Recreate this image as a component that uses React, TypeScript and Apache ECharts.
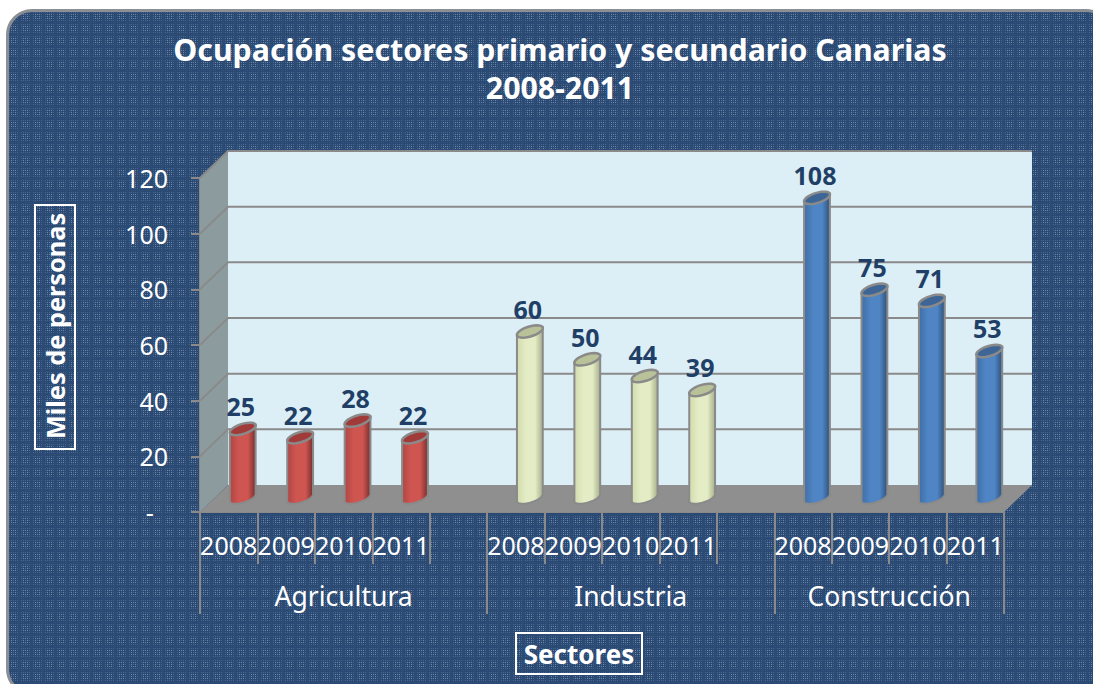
import React, { useEffect, useRef } from "react";
import * as echarts from "echarts";

const titleText = "Ocupación sectores primario y secundario Canarias\n2008-2011";
const years = ["2008", "2009", "2010", "2011"];
const sectors = ["Agricultura", "Industria", "Construcción"];
const agricultura = [25, 22, 28, 22];
const industria = [60, 50, 44, 39];
const construccion = [108, 75, 71, 53];
const yTicks = [0, 20, 40, 60, 80, 100, 120];
const yName = "Miles de personas";
const xName = "Sectores";

const DEPTH_X = 28;
const DEPTH_Y = 27;
const GREY = "#8a8a8a";
const NAVY = "#1f3f66";
const FONT = '"Noto Sans", sans-serif';

const slots = [...years, "", ...years, "", ...years];
const slotCount = slots.length;

function ellipsePts(cx: number, cy: number, rx: number, ry: number, tilt: number, from: number, to: number) {
  const pts: number[][] = [];
  const n = 28;
  for (let i = 0; i <= n; i++) {
    const t = from + ((to - from) * i) / n;
    const x = rx * Math.cos(t);
    const y = ry * Math.sin(t);
    pts.push([cx + x * Math.cos(tilt) + y * Math.sin(tilt), cy - x * Math.sin(tilt) + y * Math.cos(tilt)]);
  }
  return pts;
}

function cylinderSeries(values: number[], start: number, c: { left: string; mid: string; right: string; top: string }) {
  return {
    type: "custom",
    xAxisIndex: 0,
    yAxisIndex: 0,
    z: 5,
    clip: false,
    silent: true,
    data: values.map((v, i) => [start + i, v]),
    encode: { x: 0, y: 1 },
    renderItem: (_p: any, api: any) => {
      const idx = api.value(0);
      const val = api.value(1);
      const base = api.coord([idx, 0]);
      const top = api.coord([idx, val]);
      const cx = base[0] + DEPTH_X / 2;
      const by = base[1] - DEPTH_Y / 2 - 1;
      const ty = top[1] - DEPTH_Y / 2;
      const rx = 13.5;
      const ry = 5;
      const tilt = 0.3;
      const bEnd = ellipsePts(cx, by, rx, ry, tilt, 0, Math.PI);
      const body = [...bEnd, ellipsePts(cx, ty, rx, ry, tilt, Math.PI, Math.PI)[0], ellipsePts(cx, ty, rx, ry, tilt, 0, 0)[0]];
      const fill = new echarts.graphic.LinearGradient(0, 0, 1, 0, [
        { offset: 0, color: c.left },
        { offset: 0.35, color: c.mid },
        { offset: 0.7, color: c.mid },
        { offset: 1, color: c.right },
      ]);
      return {
        type: "group",
        children: [
          { type: "polygon", shape: { points: body }, style: { fill, stroke: GREY, lineWidth: 2 } },
          {
            type: "polygon",
            shape: { points: ellipsePts(cx, ty, rx, ry, tilt, 0, Math.PI * 2) },
            style: { fill: c.top, stroke: GREY, lineWidth: 2.5 },
          },
          {
            type: "text",
            style: {
              x: cx - 2,
              y: ty - 10,
              text: String(val),
              fill: NAVY,
              font: `bold 25px ${FONT}`,
              align: "center",
              verticalAlign: "bottom",
            },
          },
        ],
      };
    },
  };
}

function patternUrl() {
  let dots = "";
  for (let i = 0; i < 6; i++) {
    for (let j = 0; j < 6; j++) {
      const ring = Math.max(Math.abs(i - 2), Math.abs(j - 2)) === 1;
      const edge = i === 5 || j === 5;
      const col = ring ? "#7089aa" : edge ? "#2f4e78" : "#47658d";
      dots += `<rect x='${i * 2}' y='${j * 2}' width='1' height='1' fill='${col}'/>`;
    }
  }
  const svg = `<svg xmlns='http://www.w3.org/2000/svg' width='12' height='12'><rect width='12' height='12' fill='#2a4a74'/>${dots}</svg>`;
  return `url("data:image/svg+xml,${encodeURIComponent(svg)}")`;
}

export default function App() {
  const ref = useRef<HTMLDivElement>(null);
  useEffect(() => {
    document.body.style.margin = "0";
    const chart = echarts.init(ref.current!, null, { renderer: "svg" });
    const planes = {
      type: "custom",
      xAxisIndex: 1,
      yAxisIndex: 0,
      z: 1,
      clip: false,
      silent: true,
      data: [[0, 0]],
      renderItem: (_p: any, api: any) => {
        const a = api.coord([0, 0]);
        const b = api.coord([slotCount, yTicks[yTicks.length - 1]]);
        const [x0, y0] = a;
        const [x1, y1] = b;
        return {
          type: "group",
          children: [
            {
              type: "rect",
              shape: { x: x0 + DEPTH_X, y: y1 - DEPTH_Y, width: x1 - x0, height: y0 - y1 },
              style: { fill: "#dceef6" },
            },
            {
              type: "polygon",
              shape: { points: [[x0, y1], [x0 + DEPTH_X, y1 - DEPTH_Y], [x0 + DEPTH_X, y0 - DEPTH_Y], [x0, y0]] },
              style: { fill: "#8c9c9e" },
            },
            {
              type: "polygon",
              shape: { points: [[x0, y0], [x0 + DEPTH_X, y0 - DEPTH_Y], [x1 + DEPTH_X, y0 - DEPTH_Y], [x1, y0]] },
              style: { fill: "#8f8f8f" },
            },
          ],
        };
      },
    };
    const gridLines = {
      type: "custom",
      xAxisIndex: 1,
      yAxisIndex: 0,
      z: 2,
      clip: false,
      silent: true,
      data: yTicks.slice(1).map((v) => [0, v]),
      encode: { y: 1 },
      renderItem: (_p: any, api: any) => {
        const a = api.coord([0, api.value(1)]);
        const b = api.coord([slotCount, api.value(1)]);
        return {
          type: "polyline",
          shape: { points: [[a[0], a[1]], [a[0] + DEPTH_X, a[1] - DEPTH_Y], [b[0] + DEPTH_X, b[1] - DEPTH_Y]] },
          style: { stroke: GREY, lineWidth: 2, fill: "none" },
        };
      },
    };
    chart.setOption({
      animation: false,
      backgroundColor: "transparent",
      title: {
        text: titleText,
        left: 555,
        top: 25,
        textAlign: "center",
        textStyle: { color: "#fff", fontFamily: FONT, fontWeight: "bold", fontSize: 30.3, lineHeight: 38 },
      },
      grid: { left: 200, right: 89, top: 178, bottom: 172 },
      xAxis: [
        {
          type: "category",
          data: slots,
          position: "bottom",
          axisLine: { show: true, lineStyle: { color: GREY, width: 2 } },
          axisTick: { show: true, length: 52, alignWithLabel: false, lineStyle: { color: GREY, width: 2 } },
          axisLabel: { show: true, interval: 0, color: "#fff", fontFamily: FONT, fontSize: 25, margin: 20 },
          splitLine: { show: false },
        },
        {
          type: "value",
          min: 0,
          max: slotCount,
          position: "bottom",
          axisLine: { show: false },
          axisTick: { show: true, length: 102, customValues: [0, 5, 10, 14], lineStyle: { color: GREY, width: 2 } },
          axisLabel: {
            show: true,
            customValues: [2.5, 7.5, 12],
            formatter: (v: number) => sectors[v < 5 ? 0 : v < 10 ? 1 : 2],
            color: "#fff",
            fontFamily: FONT,
            fontSize: 26.5,
            margin: 70,
          },
          splitLine: { show: false },
        },
      ],
      yAxis: {
        type: "value",
        min: 0,
        max: 120,
        interval: 20,
        axisLine: { show: true, lineStyle: { color: GREY, width: 2 } },
        axisTick: { show: true, length: 9, lineStyle: { color: GREY, width: 2 } },
        axisLabel: {
          color: "#fff",
          fontFamily: FONT,
          fontSize: 25,
          margin: 32,
          formatter: (v: number) => (v === 0 ? "-\u2007" : String(v)),
        },
        splitLine: { show: false },
      },
      graphic: [
        { type: "rect", shape: { x: 35, y: 205, width: 40, height: 244 }, style: { fill: "transparent", stroke: "#fff", lineWidth: 2 } },
        {
          type: "text",
          x: 55,
          y: 326,
          rotation: Math.PI / 2,
          style: { text: yName, fill: "#fff", font: `bold 25.3px ${FONT}`, align: "center", verticalAlign: "middle" },
        },
        { type: "rect", shape: { x: 516, y: 633, width: 126, height: 41 }, style: { fill: "transparent", stroke: "#fff", lineWidth: 2 } },
        {
          type: "text",
          x: 579,
          y: 654,
          style: { text: xName, fill: "#fff", font: `bold 26px ${FONT}`, align: "center", verticalAlign: "middle" },
        },
      ],
      series: [
        planes,
        gridLines,
        cylinderSeries(agricultura, 0, { left: "#b04643", mid: "#cf5551", right: "#74302e", top: "#a03b39" }),
        cylinderSeries(industria, 5, { left: "#d2dbae", mid: "#e3ecc4", right: "#a7ae8b", top: "#b9c198" }),
        cylinderSeries(construccion, 10, { left: "#3f6ea6", mid: "#4f85c4", right: "#2f5078", top: "#3d6596" }),
      ],
    });
    return () => chart.dispose();
  }, []);
  return (
    <div style={{ position: "relative", width: 1093, height: 684, background: "#fff", overflow: "hidden" }}>
      <div
        style={{
          position: "absolute",
          left: 6,
          top: 9,
          width: 1100,
          height: 680,
          borderRadius: 26,
          border: "3px solid #8b8f94",
          background: patternUrl(),
        }}
      />
      <div ref={ref} style={{ position: "absolute", left: 0, top: 0, width: 1093, height: 684 }} />
    </div>
  );
}
